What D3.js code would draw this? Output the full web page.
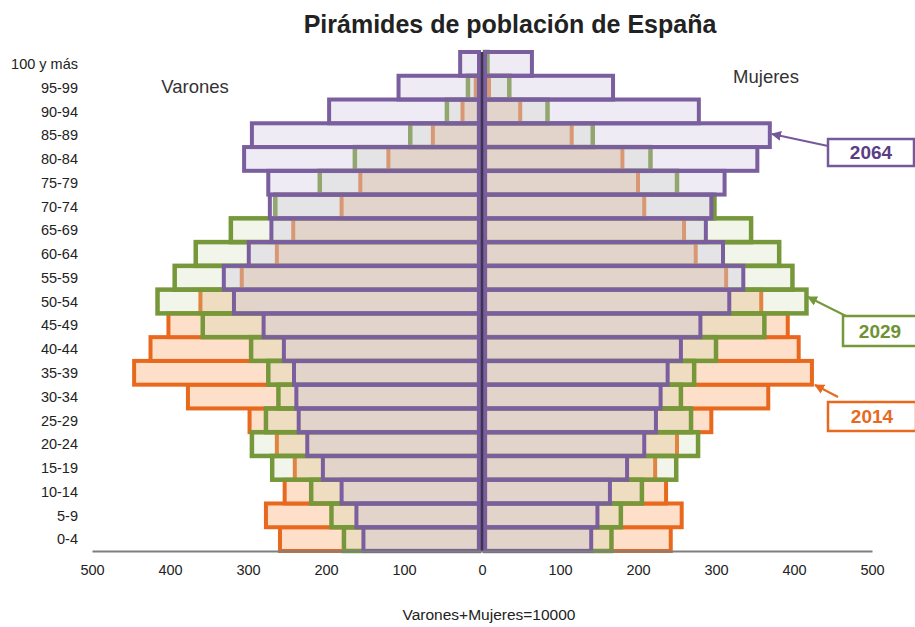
<!DOCTYPE html>
<html>
<head>
<meta charset="utf-8">
<script src="https://cdn.jsdelivr.net/npm/d3@7"></script>
<style>
  body { margin: 0; background: #fff; }
  text { font-family: "Liberation Sans", Arial, sans-serif; }
</style>
</head>
<body>
<div id="chart"></div>
<script>
// Age groups, from the bottom of the pyramid to the top
var ageGroups = ["0-4", "5-9", "10-14", "15-19", "20-24", "25-29", "30-34", "35-39",
  "40-44", "45-49", "50-54", "55-59", "60-64", "65-69", "70-74", "75-79",
  "80-84", "85-89", "90-94", "95-99", "100 y más"];

// Population per 10000 inhabitants (Varones+Mujeres=10000)
var men2014   = [259, 277, 253, 240, 263, 298, 377, 446, 425, 402, 361, 308, 263, 242, 180, 156, 120, 63, 25, 8, 1];
var women2014 = [242, 256, 236, 222, 250, 294, 367, 423, 406, 392, 358, 313, 274, 259, 208, 200, 180, 115, 49, 9, 3];
var men2029   = [177, 193, 219, 269, 295, 277, 261, 274, 296, 358, 416, 394, 367, 322, 265, 208, 163, 92, 45, 18, 3];
var women2029 = [166, 178, 205, 249, 277, 268, 255, 272, 300, 362, 416, 398, 381, 345, 298, 250, 216, 142, 84, 35, 7];
var men2064   = [152, 161, 180, 204, 224, 235, 238, 241, 254, 280, 318, 331, 299, 270, 272, 274, 305, 295, 196, 107, 28];
var women2064 = [140, 148, 164, 186, 208, 223, 229, 238, 255, 280, 317, 335, 309, 287, 294, 311, 353, 369, 278, 168, 64];

var xTicks = [-500, -400, -300, -200, -100, 0, 100, 200, 300, 400, 500];

var svgWidth = 915;
var svgHeight = 627;

var svg = d3.select("#chart")
  .append("svg")
  .attr("width", svgWidth)
  .attr("height", svgHeight);

// Scales
var xScale = d3.scaleLinear()
  .domain([-500, 500])
  .range([92, 872]);

var yScale = d3.scaleBand()
  .domain(ageGroups)
  .range([551, 52])
  .paddingInner(0);

var gap = 3; // small gap either side of the centre line

// one layer per year, drawn oldest first so later fills sit on top
var layers = [
  { men: men2014, women: women2014, fill: "#fddfca", fillOpacity: 1, stroke: "#e8691e", width: 4 },
  { men: men2029, women: women2029, fill: "#c7d7ab", fillOpacity: 0.25, stroke: "#76983a", width: 4.5 },
  { men: men2064, women: women2064, fill: "#cbc2de", fillOpacity: 0.33, stroke: "#7a5e9e", width: 4 }
];

var barGroup = svg.append("g");

layers.forEach(function(layer) {
  var g = barGroup.append("g");

  // Varones on the left
  g.selectAll(".men")
    .data(layer.men)
    .enter()
    .append("rect")
    .attr("x", d => xScale(-d))
    .attr("y", (d, i) => yScale(ageGroups[i]))
    .attr("width", d => xScale(0) - gap - xScale(-d))
    .attr("height", yScale.bandwidth())
    .attr("fill", layer.fill)
    .attr("fill-opacity", layer.fillOpacity)
    .attr("stroke", layer.stroke)
    .attr("stroke-width", layer.width);

  // Mujeres on the right
  g.selectAll(".women")
    .data(layer.women)
    .enter()
    .append("rect")
    .attr("x", xScale(0) + gap)
    .attr("y", (d, i) => yScale(ageGroups[i]))
    .attr("width", d => xScale(d) - xScale(0) - gap)
    .attr("height", yScale.bandwidth())
    .attr("fill", layer.fill)
    .attr("fill-opacity", layer.fillOpacity)
    .attr("stroke", layer.stroke)
    .attr("stroke-width", layer.width);
});

// centre line
svg.append("line")
  .attr("x1", xScale(0))
  .attr("x2", xScale(0))
  .attr("y1", yScale.range()[1])
  .attr("y2", yScale.range()[0])
  .attr("stroke", "#3f3354")
  .attr("stroke-width", 2.5);

// bottom axis
var bottomAxis = d3.axisBottom(xScale)
  .tickValues(xTicks)
  .tickSize(0)
  .tickPadding(14)
  .tickFormat(d => Math.abs(d));

var xAxisG = svg.append("g")
  .attr("transform", "translate(0, 551)")
  .call(bottomAxis);

xAxisG.select(".domain")
  .attr("stroke", "#7f7f7f")
  .attr("stroke-width", 2);

xAxisG.selectAll("text")
  .style("font-size", "14.5px")
  .style("font-family", "'Liberation Sans', Arial, sans-serif")
  .attr("fill", "#222");

// age labels
svg.append("g")
  .selectAll("text")
  .data(ageGroups)
  .enter()
  .append("text")
  .attr("x", 78)
  .attr("y", d => yScale(d) + yScale.bandwidth() / 2)
  .attr("dy", "0.36em")
  .attr("text-anchor", "end")
  .style("font-size", "14.5px")
  .attr("fill", "#222")
  .text(d => d);

// title
svg.append("text")
  .attr("x", 510)
  .attr("y", 33)
  .attr("text-anchor", "middle")
  .style("font-size", "25px")
  .style("font-weight", "bold")
  .attr("fill", "#222")
  .text("Pirámides de población de España");

svg.append("text")
  .attr("x", 195)
  .attr("y", 93)
  .attr("text-anchor", "middle")
  .style("font-size", "18.5px")
  .attr("fill", "#333")
  .text("Varones");

svg.append("text")
  .attr("x", 766)
  .attr("y", 83)
  .attr("text-anchor", "middle")
  .style("font-size", "18.5px")
  .attr("fill", "#333")
  .text("Mujeres");

svg.append("text")
  .attr("x", 489)
  .attr("y", 620)
  .attr("text-anchor", "middle")
  .style("font-size", "15.5px")
  .attr("fill", "#222")
  .text("Varones+Mujeres=10000");

/**
 * Year callouts
 */
var callouts = [
  { label: "2064", color: "#76599a", text: "#5b3d84", box: [828, 139, 86, 27], from: [828, 146], to: [772, 134] },
  { label: "2029", color: "#76983a", text: "#6e9234", box: [843, 316, 74, 30], from: [846, 316], to: [808, 297] },
  { label: "2014", color: "#e8691e", text: "#e8691e", box: [828, 402, 88, 29], from: [838, 397], to: [815, 385] }
];

var defs = svg.append("defs");
callouts.forEach(function(c, i) {
  defs.append("marker")
    .attr("id", "arrow" + i)
    .attr("viewBox", "0 0 10 10")
    .attr("refX", 9)
    .attr("refY", 5)
    .attr("markerWidth", 5)
    .attr("markerHeight", 5)
    .attr("orient", "auto")
    .append("path")
    .attr("d", "M0,0 L10,5 L0,10 z")
    .attr("fill", c.color);

  svg.append("line")
    .attr("x1", c.from[0])
    .attr("y1", c.from[1])
    .attr("x2", c.to[0])
    .attr("y2", c.to[1])
    .attr("stroke", c.color)
    .attr("stroke-width", 2)
    .attr("marker-end", "url(#arrow" + i + ")");

  svg.append("rect")
    .attr("x", c.box[0])
    .attr("y", c.box[1])
    .attr("width", c.box[2])
    .attr("height", c.box[3])
    .attr("fill", "#fff")
    .attr("stroke", c.color)
    .attr("stroke-width", 2.5);

  svg.append("text")
    .attr("x", c.box[0] + c.box[2] / 2)
    .attr("y", c.box[1] + c.box[3] / 2)
    .attr("dy", "0.36em")
    .attr("text-anchor", "middle")
    .style("font-size", "19px")
    .style("font-weight", "bold")
    .attr("fill", c.text)
    .text(c.label);
});
</script>
</body>
</html>
